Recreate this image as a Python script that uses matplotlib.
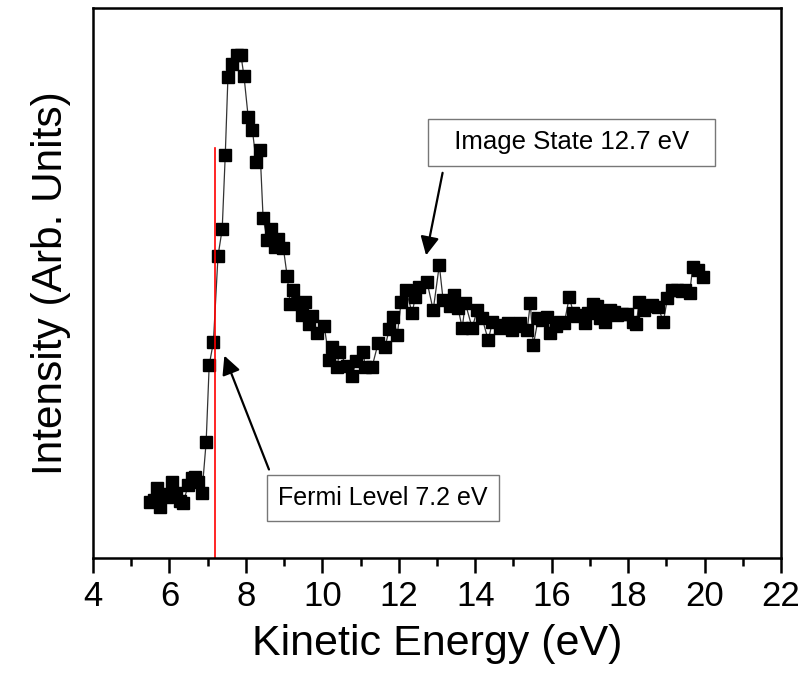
import matplotlib
matplotlib.use("Agg")
import matplotlib.pyplot as plt
from matplotlib.ticker import MultipleLocator

plt.rcParams['font.family'] = ['Liberation Sans', 'DejaVu Sans']

# kinetic energy (eV) and intensity (arb. units)
energy = [
    5.49, 5.60, 5.68, 5.75, 5.86, 5.94, 6.07, 6.17, 6.28, 6.36,
    6.49, 6.59, 6.67, 6.75, 6.85, 6.96, 7.04, 7.15, 7.27, 7.38,
    7.46, 7.53, 7.64, 7.77, 7.87, 7.95, 8.06, 8.17, 8.27, 8.37,
    8.45, 8.56, 8.66, 8.77, 8.84, 8.98, 9.08, 9.16, 9.24, 9.37,
    9.48, 9.55, 9.66, 9.74, 9.87, 10.05, 10.18, 10.26, 10.39, 10.44,
    10.65, 10.78, 10.88, 11.07, 11.12, 11.30, 11.46, 11.64, 11.75, 11.85,
    11.96, 12.06, 12.19, 12.35, 12.43, 12.53, 12.74, 12.90, 13.06, 13.16,
    13.35, 13.45, 13.55, 13.66, 13.74, 13.92, 14.05, 14.18, 14.34, 14.45,
    14.65, 14.76, 14.86, 14.97, 15.07, 15.18, 15.36, 15.44, 15.52, 15.65,
    15.75, 15.88, 15.96, 16.12, 16.23, 16.33, 16.46, 16.57, 16.67, 16.75,
    16.88, 16.96, 17.09, 17.19, 17.27, 17.40, 17.53, 17.64, 17.72, 17.85,
    17.98, 18.14, 18.21, 18.29, 18.42, 18.53, 18.63, 18.79, 18.92, 19.03,
    19.16, 19.29, 19.40, 19.50, 19.61, 19.69, 19.82, 19.95,
]
intensity = [
    0.56, 0.58, 0.70, 0.51, 0.64, 0.61, 0.76, 0.65, 0.57, 0.55,
    0.73, 0.80, 0.81, 0.76, 0.65, 1.16, 1.93, 2.16, 3.02, 3.29,
    4.03, 4.81, 4.94, 5.03, 5.03, 4.82, 4.41, 4.28, 3.96, 4.08,
    3.40, 3.18, 3.29, 3.11, 3.19, 3.10, 2.82, 2.54, 2.68, 2.55,
    2.43, 2.56, 2.34, 2.42, 2.25, 2.32, 1.98, 2.11, 1.91, 2.06,
    1.92, 1.82, 1.97, 2.06, 1.91, 1.91, 2.15, 2.11, 2.29, 2.41,
    2.23, 2.56, 2.68, 2.45, 2.61, 2.71, 2.76, 2.48, 2.93, 2.58,
    2.52, 2.63, 2.50, 2.30, 2.55, 2.30, 2.48, 2.40, 2.18, 2.36,
    2.30, 2.33, 2.35, 2.28, 2.32, 2.35, 2.28, 2.55, 2.13, 2.40,
    2.38, 2.41, 2.25, 2.32, 2.36, 2.35, 2.61, 2.45, 2.42, 2.43,
    2.35, 2.45, 2.54, 2.52, 2.40, 2.36, 2.48, 2.46, 2.43, 2.44,
    2.44, 2.36, 2.34, 2.56, 2.48, 2.52, 2.53, 2.51, 2.36, 2.60,
    2.68, 2.68, 2.67, 2.68, 2.65, 2.91, 2.88, 2.81,
]

fermi_level = 7.2
image_state = 12.7

fig = plt.figure(figsize=(7.99, 6.74), dpi=100)
ax = fig.add_axes([0.1164, 0.172, 0.8611, 0.816])

ax.plot(energy, intensity, '-', color='#333333', lw=0.9,
        marker='s', ms=9, mfc='black', mec='black')

# Fermi level marker line
ax.plot([fermi_level, fermi_level], [0, 4.1], color='red', lw=1.2)

ax.set_xlim(4, 22)
ax.set_ylim(0, 5.5)
ax.xaxis.set_major_locator(MultipleLocator(2))
ax.xaxis.set_minor_locator(MultipleLocator(1))
ax.set_yticks([])
ax.tick_params(axis='x', which='major', direction='out', length=11, width=1.8,
               labelsize=25, pad=5)
ax.tick_params(axis='x', which='minor', direction='out', length=6, width=1.8)
for sp in ax.spines.values():
    sp.set_linewidth(1.8)

ax.set_xlabel('Kinetic Energy (eV)', fontsize=31, labelpad=8)
ax.set_ylabel('Intensity (Arb. Units)', fontsize=30.5, labelpad=16)

box = dict(boxstyle='square,pad=0.45', fc='white', ec='#777777', lw=1)
ax.text(16.52, 4.16, '  Image State 12.7 eV  ', fontsize=18.5, ha='center', va='center', bbox=box)
ax.text(11.59, 0.60, 'Fermi Level 7.2 eV', fontsize=18, ha='center', va='center', bbox=box)

arrow = dict(arrowstyle='-|>', color='black', lw=1.6, mutation_scale=28)
ax.annotate('', xy=(image_state, 3.0), xytext=(13.16, 3.88), arrowprops=arrow)
ax.annotate('', xy=(7.41, 2.05), xytext=(8.63, 0.86), arrowprops=arrow)

fig.savefig('out.png', dpi=100)
